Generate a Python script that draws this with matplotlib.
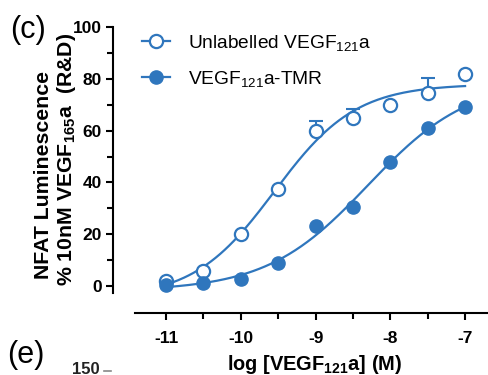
import numpy as np
import matplotlib
matplotlib.use("Agg")
import matplotlib.pyplot as plt
from matplotlib.lines import Line2D

plt.rcParams["font.family"] = ["Liberation Sans", "DejaVu Sans"]
plt.rcParams["mathtext.fontset"] = "custom"
plt.rcParams["mathtext.rm"] = "Liberation Sans"
plt.rcParams["mathtext.bf"] = "Liberation Sans:bold"
plt.rcParams["mathtext.default"] = "regular"
plt.rcParams["axes.unicode_minus"] = False

log_conc = [-11, -10.5, -10, -9.5, -9, -8.5, -8, -7.5, -7]
unlabelled = [2, 6, 20, 37.5, 60, 65, 70, 74.5, 82]
unlabelled_err = [0, 0, 0, 0, 3.7, 3.3, 0, 6, 0]
tmr = [0.5, 1.2, 2.7, 9, 23, 30.5, 48, 61, 69]

blue = "#2f76bd"


def fit_4pl(x, y):
    # small grid search on logEC50 / hill, linear solve for bottom/top
    x = np.asarray(x, float)
    y = np.asarray(y, float)
    best = None
    for e in np.linspace(-10.5, -7.0, 141):
        for h in np.linspace(0.4, 2.0, 81):
            s = 1.0 / (1.0 + 10 ** ((e - x) * h))
            A = np.column_stack([1 - s, s])
            coef, *_ = np.linalg.lstsq(A, y, rcond=None)
            r = np.sum((A @ coef - y) ** 2)
            if best is None or r < best[0]:
                best = (r, coef[0], coef[1], e, h)
    return best[1:]


def curve(x, p):
    b, t, e, h = p
    return b + (t - b) / (1 + 10 ** ((e - x) * h))


fig = plt.figure(figsize=(4.89, 3.75), dpi=100)
ax = fig.add_axes([113 / 489, 62 / 375, 376 / 489, 286 / 375])

xs = np.linspace(-11, -7, 200)
p1 = fit_4pl(log_conc, unlabelled)
p2 = fit_4pl(log_conc, tmr)
ax.plot(xs, curve(xs, p1), color=blue, lw=1.6, zorder=2)
ax.plot(xs, curve(xs, p2), color=blue, lw=1.6, zorder=2)

ax.errorbar(log_conc, unlabelled, yerr=[np.zeros(len(unlabelled_err)), unlabelled_err],
            fmt="none", ecolor=blue, elinewidth=1.5, capsize=5, capthick=1.5, zorder=3)
ax.plot(log_conc, unlabelled, "o", ms=9.5, mfc="white", mec=blue, mew=1.6, zorder=4)
ax.plot(log_conc, tmr, "o", ms=9.5, mfc=blue, mec=blue, zorder=4)

# legend handles
h1, = ax.plot([], [], "-o", color=blue, ms=9.5, mfc="white", mec=blue, mew=1.6, lw=1.6)
h2, = ax.plot([], [], "-o", color=blue, ms=9.5, mfc=blue, lw=1.6)
ax.legend([h1, h2], ["Unlabelled VEGF$_{121}$a", "VEGF$_{121}$a-TMR"],
          loc="upper left", bbox_to_anchor=(0.03, 1.04), frameon=False,
          fontsize=13.8, labelspacing=0.85, handlelength=1.5, handletextpad=0.9)

ax.set_xlim(-11.71, -6.68)
ax.set_ylim(-10.4, 100)
for s in ["top", "right"]:
    ax.spines[s].set_visible(False)
ax.spines["left"].set_bounds(-2.7, 100)
ax.spines["bottom"].set_bounds(-11.41, -6.68)
ax.spines["left"].set_linewidth(1.5)
ax.spines["bottom"].set_linewidth(1.5)

ax.set_xticks([-11, -10, -9, -8, -7])
ax.set_xticks(np.arange(-10.5, -7, 1.0), minor=True)
ax.set_yticks(np.arange(0, 101, 20))
ax.set_yticks(np.arange(10, 100, 20), minor=True)
ax.tick_params(which="major", direction="out", length=5, width=1.5, labelsize=12.5)
ax.tick_params(which="minor", direction="out", length=4, width=1.5)
ax.tick_params(axis="x", which="major", pad=8)
ax.tick_params(axis="y", which="major", pad=3)
for lab in ax.get_xticklabels() + ax.get_yticklabels():
    lab.set_fontweight("bold")

ax.set_xlabel(r"log [VEGF$_{\mathbf{121}}$a] (M)", fontsize=14.4, fontweight="bold")
ax.xaxis.set_label_coords(0.537, -0.14)

fig.text(0.088, 0.533, "NFAT Luminescence", rotation=90, fontsize=15.3,
         fontweight="bold", ha="center", va="center")
fig.text(0.135, 0.576, r"% 10nM VEGF$_{\mathbf{165}}$a  (R&D)", rotation=90, fontsize=15.3,
         fontweight="bold", ha="center", va="center")

fig.text(0.02, 0.96, "(c)", fontsize=22, va="top")
fig.text(0.014, 0.012, "(e)", fontsize=22, va="bottom")
fig.text(0.148, -0.004, "150", fontsize=12, fontweight="bold", color="#222222", va="bottom")
fig.add_artist(Line2D([0.212, 0.228], [0.012, 0.012], color="#888888", lw=1.2))

fig.savefig("out.png", dpi=100)
